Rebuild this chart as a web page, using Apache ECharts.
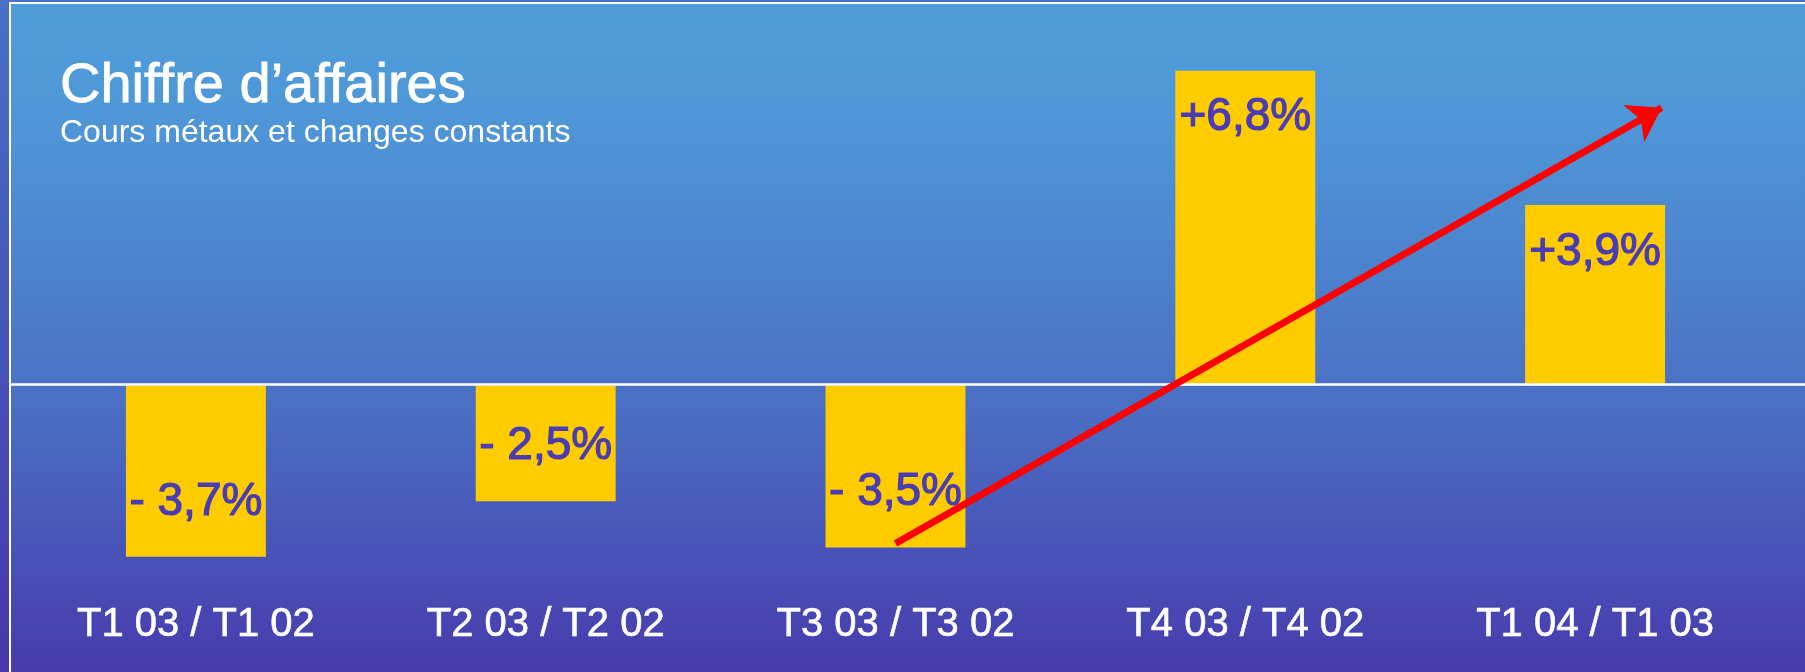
<!DOCTYPE html>
<html>
<head>
<meta charset="utf-8">
<script src="https://cdn.jsdelivr.net/npm/echarts@6/dist/echarts.min.js"></script>
<style>
html,body{margin:0;padding:0;width:1805px;height:672px;overflow:hidden;background:#4a5fb8;}
#chart{width:1805px;height:672px;}
</style>
</head>
<body>
<div id="chart"></div>
<script>
const titleText = 'Chiffre d\u2019affaires';
const subtitleText = 'Cours métaux et changes constants';
const categories = ['T1 03 / T1 02', 'T2 03 / T2 02', 'T3 03 / T3 02', 'T4 03 / T4 02', 'T1 04 / T1 03'];
const growth = [-3.7, -2.5, -3.5, 6.8, 3.9];
// trend arrow: [category index, value] start and end
const trendArrow = [[2.0, -3.41], [4.19, 6.0]];

function fmt(v) {
  const s = Math.abs(v).toFixed(1).replace('.', ',') + '%';
  return v < 0 ? '- ' + s : '+' + s;
}

const chart = echarts.init(document.getElementById('chart'), null, {renderer: 'canvas'});
const FONT = '"Liberation Sans", Arial, sans-serif';

const option = {
  animation: false,
  backgroundColor: new echarts.graphic.LinearGradient(0, 0, 0, 1, [
    {offset: 0, color: '#4870c4'},
    {offset: 1, color: '#4637aa'}
  ]),
  title: [
    {text: titleText, left: 60, top: 59, padding: 0,
     textStyle: {color: '#ffffff', fontSize: 56, fontWeight: 'normal', fontFamily: FONT,
                 textBorderColor: '#ffffff', textBorderWidth: 0.8}},
    {text: subtitleText, left: 60, top: 117, padding: 0,
     textStyle: {color: '#ffffff', fontSize: 32, fontWeight: 'normal', fontFamily: FONT}}
  ],
  grid: {left: 21, right: 35, top: 61.4, bottom: 78.1, containLabel: false},
  xAxis: [
    {type: 'category', data: categories, position: 'bottom',
     axisLine: {show: false}, axisTick: {show: false}, splitLine: {show: false},
     axisLabel: {color: '#ffffff', fontSize: 40, fontFamily: FONT, margin: 11, interval: 0,
                 textBorderColor: '#ffffff', textBorderWidth: 0.6}},
    {type: 'value', min: -0.5, max: 4.5, show: false}
  ],
  yAxis: {type: 'value', min: -4.5, max: 7, show: false, splitLine: {show: false}},
  series: [
    {
      type: 'bar',
      data: growth,
      barCategoryGap: '60%',
      z: 2,
      itemStyle: {color: '#ffcc00'},
      label: {
        show: true,
        fontSize: 46,
        fontFamily: FONT,
        color: '#4a3cb4',
        textBorderColor: '#4a3cb4',
        textBorderWidth: 1.2,
        formatter: p => fmt(p.value),
        position: 'insideTop',
        distance: 24
      }
    },
    {
      type: 'lines',
      coordinateSystem: 'cartesian2d',
      xAxisIndex: 1,
      yAxisIndex: 0,
      z: 10,
      symbol: ['none', 'arrow'],
      symbolSize: [26, 32],
      lineStyle: {color: '#ff0000', width: 7, opacity: 1, curveness: 0},
      effect: {show: false},
      data: [{coords: trendArrow}]
    }
  ]
};
// label placement for negative bars at the bottom
option.series[0].data = growth.map(v => v < 0
  ? {value: v, label: {position: 'insideBottom', distance: 32}}
  : {value: v});

chart.setOption(option);

const y0 = chart.convertToPixel({yAxisIndex: 0}, 0);
chart.setOption({
  graphic: [
    {type: 'rect', z: -1, silent: true,
     shape: {x: 10, y: 3, width: 1820, height: 690},
     style: {
       fill: new echarts.graphic.LinearGradient(0, 0, 0, 1, [
         {offset: 0, color: '#509ddb'},
         {offset: 0.15, color: '#4f98d8'},
         {offset: 0.57, color: '#4a71c4'},
         {offset: 1, color: '#4737ab'}
       ]),
       stroke: '#ffffff', lineWidth: 2
     }},
    {type: 'line', z: 5, silent: true,
     shape: {x1: 10, y1: y0 - 1, x2: 1805, y2: y0 - 1},
     style: {stroke: '#ffffff', lineWidth: 2.5}}
  ]
});
</script>
</body>
</html>
